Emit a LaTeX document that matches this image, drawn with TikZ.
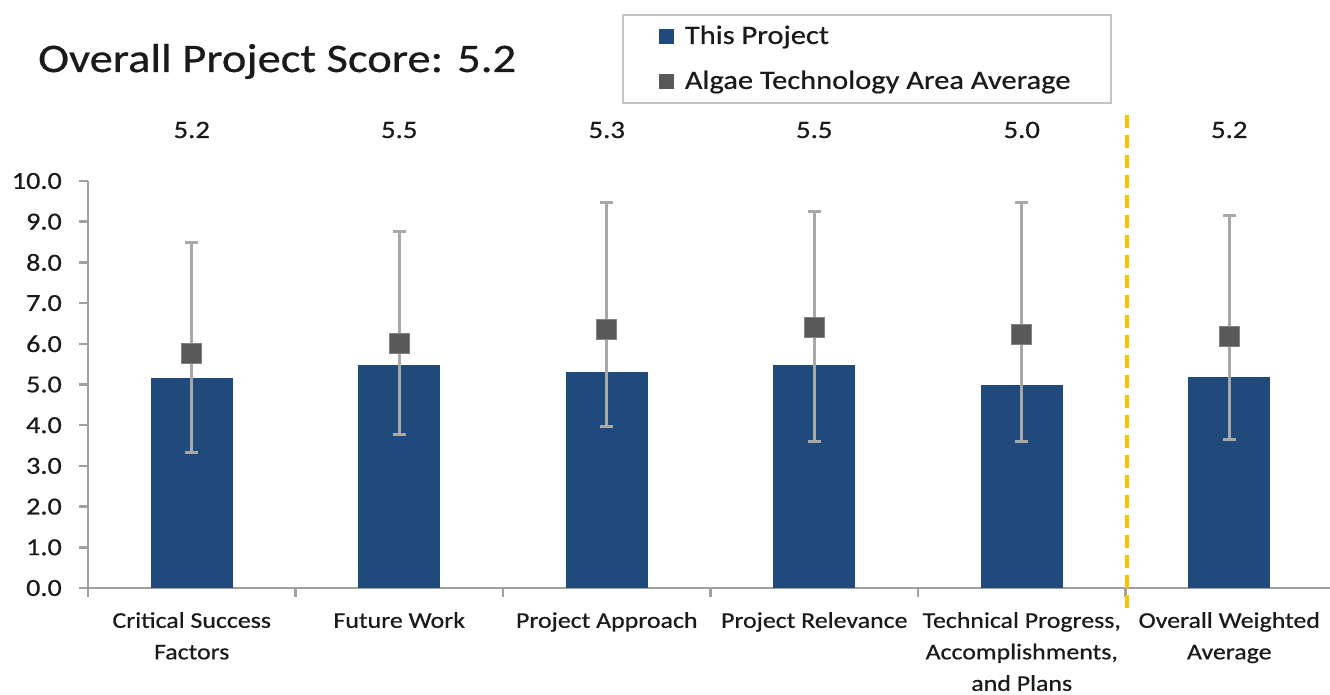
\documentclass[tikz,border=0pt]{standalone}
\usepackage{fontspec}
\setmainfont{Carlito}
\newfontfamily\chartfont[FakeStretch=1.15, FakeBold=0.6]{Carlito}
\usepackage{xcolor}
\usepackage{tikz}
\usetikzlibrary{positioning}

\definecolor{barblue}{HTML}{214A7C}
\definecolor{markgrey}{HTML}{595959}
\definecolor{errgrey}{HTML}{A8A8A8}
\definecolor{axisgrey}{HTML}{A0A0A0}
\definecolor{legendgrey}{HTML}{C4C4C4}
\definecolor{divorange}{HTML}{FFC000}
\definecolor{inkgrey}{HTML}{1A1A1A}

\begin{document}
\begin{tikzpicture}[
        x=1pt, y=1pt,
        bar/.style={fill=barblue},
        errbar/.style={draw=errgrey, line width=3pt},
        avgbox/.style={rectangle, fill=markgrey, draw=markgrey!75!white, line width=1pt, minimum size=20pt, inner sep=0pt},
        axisline/.style={draw=axisgrey, line width=2.5pt},
        divider/.style={draw=divorange, line width=4.5pt, dash pattern=on 13pt off 7pt},
        score/.style={font=\chartfont\fontsize{25}{30}\selectfont, text=inkgrey, anchor=base},
        catlabel/.style={font=\chartfont\fontsize{22.5}{31.5}\selectfont, text=inkgrey, align=center, anchor=north, inner sep=0pt},
        ticklabel/.style={font=\chartfont\fontsize{24.5}{28}\selectfont, text=inkgrey, anchor=east, inner sep=0pt},
        legendkey/.style={rectangle, minimum size=15pt, inner sep=0pt},
        legendtext/.style={font=\chartfont\fontsize{26.5}{30}\selectfont, text=inkgrey, anchor=west, inner sep=0pt}
    ]
    \useasboundingbox (0,0) rectangle (1330,694);

    % title and legend
    \node[font=\chartfont\fontsize{40.5}{46}\selectfont, text=inkgrey, anchor=base west, inner sep=0pt] (title) at (38,622) {Overall Project Score: 5.2};

    \node[draw=legendgrey, line width=1.5pt, minimum width=488pt, minimum height=88pt] (legend) at (867,635) {};
    \node[legendkey, fill=barblue] (keyproj) at (666,657) {};
    \node[legendkey, fill=markgrey] (keyavg) at (666,612) {};
    \node[legendtext, right=11pt of keyproj] (txtproj) {This Project};
    \node[legendtext, right=11pt of keyavg] (txtavg) {Algae Technology Area Average};

    % axes
    \coordinate (origin) at (88,106);
    \coordinate (ytop) at (88,513);
    \coordinate (xend) at (1330,106);
    \draw[axisline] (ytop) -- (origin) -- (xend);
    \foreach \v in {0,...,10} {
        \pgfmathsetmacro\yy{106+40.7*\v}
        \draw[axisline] (79,\yy) -- (88,\yy);
        \node[ticklabel] (tick\v) at (62,\yy) {\v.0};
    }
    \foreach \k in {0,...,5} {
        \draw[axisline] (88+207.5*\k,106) -- (88+207.5*\k,97);
    }

    % bars, error bars and area averages
    \foreach \i/\val/\avg/\lo/\hi/\lab/\cat in {
        1/5.15/5.77/3.32/8.50/5.2/{Critical Success\\Factors},
        2/5.48/6.00/3.78/8.75/5.5/{Future Work},
        3/5.31/6.36/3.98/9.48/5.3/{Project Approach},
        4/5.48/6.41/3.59/9.24/5.5/{Project Relevance},
        5/4.98/6.24/3.59/9.48/5.0/{Technical Progress,\\Accomplishments,\\and Plans},
        6/5.18/6.17/3.64/9.16/5.2/{Overall Weighted\\Average}} {
        \pgfmathsetmacro\xc{191.75+207.5*(\i-1)}
        \fill[bar] (\xc-41,106) rectangle (\xc+41,106+40.7*\val);
        \coordinate (lo\i) at (\xc,106+40.7*\lo);
        \coordinate (hi\i) at (\xc,106+40.7*\hi);
        \draw[errbar] (lo\i) -- (hi\i);
        \draw[errbar] ([xshift=-6.5pt]lo\i) -- ([xshift=6.5pt]lo\i);
        \draw[errbar] ([xshift=-6.5pt]hi\i) -- ([xshift=6.5pt]hi\i);
        \node[avgbox] (avg\i) at (\xc,106+40.7*\avg) {};
        \node[score] (score\i) at (\xc,556) {\lab};
        \node[catlabel] (cat\i) at (\xc,82) {\cat};
    }

    % divider before the weighted average
    \coordinate (divtop) at (1127,579);
    \coordinate (divbot) at (1127,84);
    \draw[divider] (divtop) -- (divbot);

\end{tikzpicture}
\end{document}
